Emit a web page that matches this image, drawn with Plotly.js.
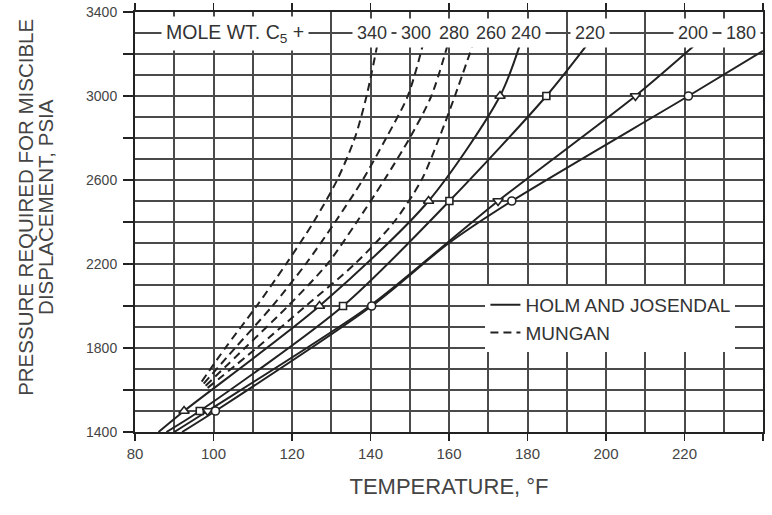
<!DOCTYPE html>
<html><head><meta charset="utf-8">
<script src="https://cdn.plot.ly/plotly-3.0.1.min.js"></script>
<style>html,body{margin:0;padding:0;background:#fff}#chart{width:772px;height:515px}</style>
</head><body><div id="chart"></div>
<script>
// Mole weight labels of C5+ (top of chart)
const moleWeights = ['340', '300', '280', '260', '240', '220', '200', '180'];

// Mungan correlation (dashed): temperature (°F) vs pressure (psia)
const mungan340T = [97, 103, 111, 118.5, 125.5, 131.5, 136, 139, 141.7];
const mungan340P = [1640, 1800, 2000, 2200, 2400, 2600, 2800, 3000, 3240];
const mungan300T = [97.5, 105.5, 115, 123.5, 131, 138, 144, 149.5, 153.3];
const mungan300P = [1630, 1800, 2000, 2200, 2400, 2600, 2800, 3000, 3240];
const mungan280T = [98, 108, 119, 129, 136.5, 143.5, 150, 155.5, 159.6];
const mungan280P = [1620, 1800, 2000, 2200, 2400, 2600, 2800, 3000, 3240];
const mungan260T = [98.5, 111, 123.5, 136, 146, 153, 157.5, 161.5, 166];
const mungan260P = [1610, 1800, 2000, 2200, 2400, 2600, 2800, 3000, 3240];

// Holm and Josendal correlation (solid): temperature (°F) vs pressure (psia)
const holm240T = [86, 92.5, 127, 154.8, 173, 178];
const holm240P = [1400, 1500, 2000, 2500, 3000, 3240];
const holm220T = [88, 96.5, 133, 160.1, 184.8, 195];
const holm220P = [1400, 1500, 2000, 2500, 3000, 3240];
const holm200T = [90, 98.5, 139.8, 159.5, 172.5, 207.5, 222.5];
const holm200P = [1400, 1500, 2000, 2300, 2500, 3000, 3240];
const holm180T = [92, 100.5, 140.3, 160, 176, 221, 240];
const holm180P = [1400, 1500, 2000, 2300, 2500, 3000, 3215];

// Data-point markers on the Holm and Josendal curves
const mark240T = [92.5, 127, 154.8, 173];
const mark240P = [1500, 2000, 2500, 3000];
const mark220T = [96.5, 133, 160.1, 184.8];
const mark220P = [1500, 2000, 2500, 3000];
const mark200T = [98.5, 172.5, 207.5];
const mark200P = [1500, 2500, 3000];
const mark180T = [100.5, 140.3, 176, 221];
const mark180P = [1500, 2000, 2500, 3000];

// Axis titles
const yTitleLines = ['PRESSURE REQUIRED FOR MISCIBLE', 'DISPLACEMENT, PSIA'];
const xTitle = 'TEMPERATURE, °F';

const FONT = 'Liberation Sans, Arial, Helvetica, sans-serif';
const INK = '#222';
const GRID = '#4a4a4a';

const traces = [];
const holm = [[holm240T, holm240P], [holm220T, holm220P], [holm200T, holm200P], [holm180T, holm180P]];
holm.forEach((s, i) => traces.push({
  x: s[0], y: s[1], mode: 'lines', type: 'scatter',
  line: {color: INK, width: 2, shape: 'spline', smoothing: 0.8},
  name: 'HOLM AND JOSENDAL', legendgroup: 'holm', showlegend: i === 0, hoverinfo: 'x+y'
}));
const mungan = [[mungan340T, mungan340P], [mungan300T, mungan300P], [mungan280T, mungan280P], [mungan260T, mungan260P]];
mungan.forEach((s, i) => traces.push({
  x: s[0], y: s[1], mode: 'lines', type: 'scatter',
  line: {color: INK, width: 2, dash: '8px,5px', shape: 'spline', smoothing: 0.8},
  name: 'MUNGAN', legendgroup: 'mungan', showlegend: i === 0, hoverinfo: 'x+y'
}));
const marks = [
  [mark240T, mark240P, 'triangle-up', 9],
  [mark220T, mark220P, 'square', 7],
  [mark200T, mark200P, 'triangle-down', 9],
  [mark180T, mark180P, 'circle', 8]
];
marks.forEach(m => traces.push({
  x: m[0], y: m[1], mode: 'markers', type: 'scatter', showlegend: false,
  marker: {symbol: m[2], size: m[3], color: '#fff', line: {color: INK, width: 1.6}},
  hoverinfo: 'x+y'
}));

const labelX = [140.4, 151.6, 161.3, 170.7, 179.6, 195.9, 222.2, 234.4];
const annotations = [{
  x: 105.5, y: 3300, xref: 'x', yref: 'y', showarrow: false,
  text: 'MOLE WT. C<sub>5</sub> +', bgcolor: '#fff', borderpad: 4,
  font: {family: FONT, size: 19.5, color: '#333'}
}];
moleWeights.forEach((w, i) => annotations.push({
  x: labelX[i], y: 3300, xref: 'x', yref: 'y', showarrow: false,
  text: w, bgcolor: '#fff', borderpad: 4,
  font: {family: FONT, size: 18, color: '#333'}
}));
// y-axis title (two lines, tight line pitch as in the reference)
const yTitleX = [-0.1736, -0.1417];
yTitleLines.forEach((t, i) => annotations.push({
  x: yTitleX[i], y: 0.536, xref: 'paper', yref: 'paper', showarrow: false,
  text: t, textangle: -90, xanchor: 'center', yanchor: 'middle',
  font: {family: FONT, size: 20.5, color: '#444'}
}));

const yMajor = [], yMinor = [];
for (let v = 1400; v <= 3400; v += 200) yMajor.push(v);
for (let v = 1500; v < 3400; v += 200) yMinor.push(v);

const layout = {
  width: 772, height: 515,
  margin: {l: 135, r: 9, t: 12, b: 83},
  paper_bgcolor: '#fff', plot_bgcolor: '#fff',
  font: {family: FONT, color: '#444'},
  showlegend: true,
  legend: {
    x: 0.558, y: 0.348, xanchor: 'left', yanchor: 'top',
    bgcolor: '#fff', borderwidth: 0, tracegroupgap: 0,
    font: {family: FONT, size: 19, color: '#333'}
  },
  xaxis: {
    range: [80, 240], dtick: 20, tick0: 80,
    showline: true, linecolor: INK, linewidth: 2, mirror: 'ticks',
    ticks: 'outside', ticklen: 7, tickcolor: INK, tickwidth: 1.5,
    showgrid: true, gridcolor: GRID, gridwidth: 2,
    minor: {dtick: 10, tick0: 80, showgrid: true, gridcolor: GRID, gridwidth: 2},
    zeroline: false,
    tickfont: {family: FONT, size: 15, color: '#444'},
    title: {text: xTitle, standoff: 18, font: {family: FONT, size: 22, color: '#444'}}
  },
  yaxis: {
    range: [1400, 3400], tickmode: 'array', tickvals: yMajor,
    ticktext: yMajor.map(v => ((v - 1400) % 400 === 0 ? String(v) : ' ')),
    showline: true, linecolor: INK, linewidth: 2, mirror: true,
    ticks: 'outside', ticklen: 10, tickcolor: INK, tickwidth: 1.5,
    ticklabelstandoff: 3,
    showgrid: true, gridcolor: GRID, gridwidth: 2,
    minor: {tickmode: 'array', tickvals: yMinor, showgrid: true, gridcolor: GRID, gridwidth: 2},
    zeroline: false,
    tickfont: {family: FONT, size: 14, color: '#444'}
  },
  annotations: annotations
};

Plotly.newPlot('chart', traces, layout, {displayModeBar: false, staticPlot: true});
</script>
</body></html>
